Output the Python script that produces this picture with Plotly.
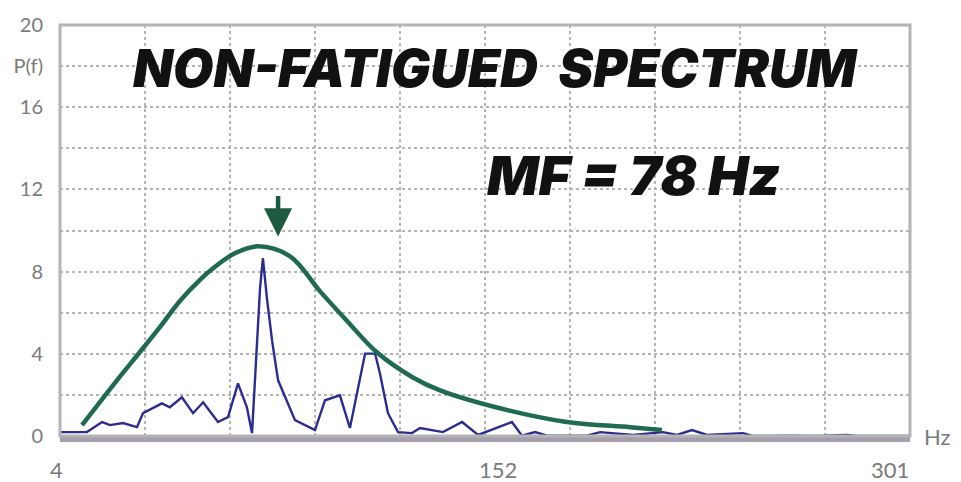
import plotly.graph_objects as go

# ---- data ----
hz_spec = [4.0, 13.4, 18.7, 21.5, 26.0, 30.9, 33.0, 36.1, 39.6, 42.4, 46.6, 50.5, 54.0, 59.2, 62.7,
           66.2, 69.3, 71.1, 72.8, 73.9, 74.9, 76.3, 78.1, 80.2, 86.1, 93.1, 96.6, 101.8, 105.3, 108.1,
           110.6, 114.1, 115.8, 118.6, 122.1, 127.0, 129.8, 137.8, 144.5, 150.1, 156.7, 161.9, 165.4,
           170.0, 174.2, 188.1, 192.7, 204.2, 214.7, 219.6, 224.8, 230.1, 242.6, 246.1, 259.1, 268.5,
           279.0, 282.5, 301.0]
p_spec = [0.19, 0.19, 0.68, 0.53, 0.63, 0.43, 1.11, 1.35, 1.59, 1.40, 1.88, 1.11, 1.64, 0.68, 0.92,
          2.56, 1.40, 0.14, 4.64, 7.20, 8.65, 6.71, 4.64, 2.71, 0.77, 0.29, 1.74, 1.98, 0.39, 2.22,
          4.01, 4.01, 3.04, 1.11, 0.19, 0.14, 0.39, 0.19, 0.68, 0.05, 0.39, 0.68, 0.02,
          0.19, 0.02, 0.02, 0.19, 0.05, 0.19, 0.05, 0.29, 0.05, 0.14, 0.0, 0.02, 0.0,
          0.05, 0.0, 0.0]

hz_fit = [11.7, 23.9, 32.0, 38.9, 45.9, 52.9, 57.5, 65.1, 73.2, 84.4, 94.8, 104.3, 114.8, 127.3,
          136.8, 157.7, 181.1, 203.2, 214.3]
p_fit = [0.53, 2.71, 4.1, 5.3, 6.57, 7.6, 8.16, 8.89, 9.23, 8.74, 7.05, 5.60, 4.06, 2.85,
         2.22, 1.35, 0.68, 0.43, 0.29]

x_tick_vals = [4, 152, 301]
x_tick_text = ["4", "152", "301"]
y_tick_vals = [0, 4, 8, 12, 16, 18, 20]
y_tick_text = ["0", "4", "8", "12", "16", "P(f)", "20"]
mf_hz = 80.2
title_text = "NON-FATIGUED\u00a0\u00a0SPECTRUM"
mf_text = "MF = 78 Hz"

X_MIN, X_MAX = 4, 301
Y_MIN, Y_MAX = 0, 20

GRID = "#b4b4b4"
LABEL = "#7a7a7a"
LABEL_FONT = "Lato, Open Sans, sans-serif"

fig = go.Figure()
fig.add_trace(go.Scatter(x=hz_spec, y=p_spec, mode="lines",
                         line=dict(color="#2c2c8e", width=2.4), hoverinfo="skip"))
fig.add_trace(go.Scatter(x=hz_fit, y=p_fit, mode="lines",
                         line=dict(color="#1f6a50", width=4.5, shape="spline", smoothing=1.0),
                         hoverinfo="skip"))

step = (X_MAX - X_MIN) / 10
fig.update_xaxes(range=[X_MIN, X_MAX], showgrid=False, zeroline=False,
                 showticklabels=False, ticks="",
                 showline=True, linecolor="#a69eac", linewidth=6,
                 minor=dict(tickvals=[X_MIN + step * k for k in range(1, 10)],
                            showgrid=True, gridcolor=GRID, griddash="dot", gridwidth=1.5, ticks=""))
fig.update_yaxes(range=[Y_MIN, Y_MAX], showgrid=False, zeroline=False,
                 tickvals=y_tick_vals, ticktext=y_tick_text,
                 ticks="outside", ticklen=12, tickcolor="rgba(0,0,0,0)",
                 tickfont=dict(family=LABEL_FONT, size=20, color=LABEL),
                 showline=False,
                 minor=dict(tickvals=list(range(2, 20, 2)),
                            showgrid=True, gridcolor=GRID, griddash="dot", gridwidth=1.5, ticks=""))

annotations = []
x_shifts = [-4, 14, -20]
for v, t, s in zip(x_tick_vals, x_tick_text, x_shifts):
    annotations.append(dict(x=v, y=0, xref="x", yref="y", text=t, showarrow=False,
                            xshift=s, yshift=-33,
                            font=dict(family=LABEL_FONT, size=22, color=LABEL)))
annotations.append(dict(x=1.0, y=0, xref="paper", yref="paper", text="Hz", showarrow=False,
                        xanchor="left", yanchor="middle", xshift=12, yshift=0,
                        font=dict(family=LABEL_FONT, size=22, color=LABEL)))
annotations.append(dict(x=0.5, y=1, xref="paper", yref="paper", text=title_text, showarrow=False,
                        xanchor="center", yanchor="middle", xshift=10, yshift=-43,
                        font=dict(family="Inter, sans-serif", size=52, color="#111111",
                                  weight=900, style="italic")))
annotations.append(dict(x=0.5, y=1, xref="paper", yref="paper", text=mf_text, showarrow=False,
                        xanchor="center", yanchor="middle", xshift=148, yshift=-150,
                        font=dict(family="Inter, sans-serif", size=54, color="#111111",
                                  weight=900, style="italic")))
annotations.append(dict(x=mf_hz, y=9.71, xref="x", yref="y", text="", showarrow=True,
                        ax=0, ay=-42, arrowhead=2, arrowsize=1.25, arrowwidth=4.5,
                        arrowcolor="#1f5a40"))

fig.update_layout(
    width=961, height=482,
    margin=dict(l=60, r=51, t=22, b=46),
    paper_bgcolor="white", plot_bgcolor="white",
    showlegend=False,
    annotations=annotations,
    shapes=[dict(type="rect", xref="paper", yref="paper", x0=0, x1=1, y0=0, y1=1,
                 line=dict(color="#b4b4b4", width=3), layer="above")],
)

fig.write_html("out.html")
